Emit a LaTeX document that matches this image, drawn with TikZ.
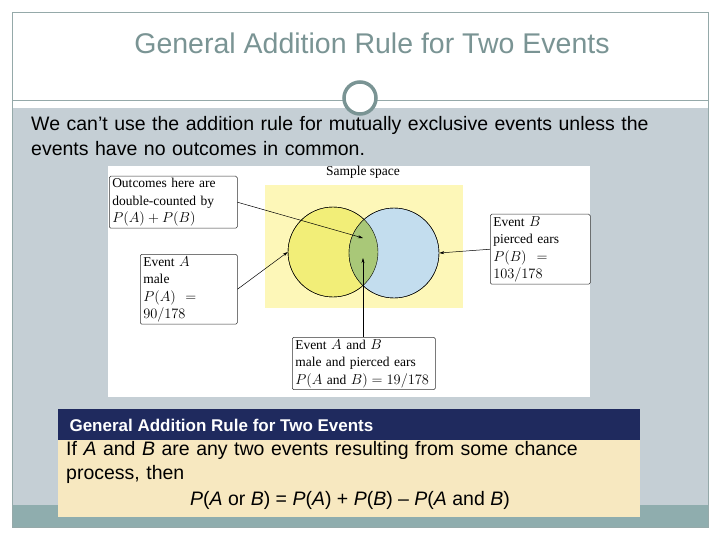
\documentclass[tikz,border=0pt]{standalone}
\usepackage{fontspec}
\setmainfont{Liberation Sans}
\newfontfamily\figfont{Liberation Serif}
\usetikzlibrary{arrows.meta}
\definecolor{bgray}{HTML}{C5CFD5}
\definecolor{teal}{HTML}{8FADAE}
\definecolor{ttl}{HTML}{7A9494}
\definecolor{navy}{HTML}{1F2A5E}
\definecolor{beige}{HTML}{F7E8C0}
\definecolor{sy}{HTML}{FDF7B8}
\definecolor{ca}{HTML}{F2EE78}
\definecolor{cb}{HTML}{C3DDEE}
\definecolor{cg}{HTML}{A9C878}
\tikzset{
 lbl/.style={draw=black!80, fill=white, rounded corners=1.5pt, line width=0.5pt, font=\figfont\fontsize{13.5}{17.5}\selectfont, align=left, anchor=north west, inner xsep=3pt, inner ysep=2pt, text width=#1},
 arr/.style={-{Stealth[length=5pt,width=3pt]}, line width=0.5pt}
}
\begin{document}
\begin{tikzpicture}[x=1pt,y=-1pt]
\useasboundingbox (0,0) rectangle (720,540);
\fill[white] (0,0) rectangle (720,540);
\fill[bgray] (12,108) rectangle (708,505);
\fill[teal] (12,505) rectangle (708,527);
\draw[ttl!80, line width=0.8pt] (12,12) rectangle (708,527);
\draw[ttl!80, line width=0.8pt] (12,100) -- (708,100);
\node[draw=ttl, line width=3.5pt, fill=white, circle, minimum size=32pt, inner sep=0pt] (hc) at (360,98) {};
\node[text=ttl, font=\fontsize{28.5}{30}\selectfont] (title) at (372,43) {General Addition Rule for Two Events};
\node[anchor=north west, align=left, text width=640pt, inner sep=0pt, font=\fontsize{19.5}{25}\selectfont] (intro) at (31,116) {We can’t use the addition rule for mutually exclusive events unless the events have no outcomes in common.};
% figure
\fill[white] (108,166) rectangle (590,397);
\node[font=\figfont\fontsize{13.5}{14}\selectfont] (ss) at (363,172) {Sample space};
\fill[sy] (265,185) rectangle (463,308);
\node[circle, draw=black, fill=ca, minimum size=90pt, inner sep=0pt] (A) at (333,252) {};
\node[circle, draw=black, fill=cb, minimum size=90pt, inner sep=0pt] (B) at (394,253) {};
\begin{scope}
\clip (333,252) circle (45);
\fill[cg] (394,253) circle (45);
\end{scope}
\draw (333,252) circle (45);
\draw (394,253) circle (45);
\coordinate (mid) at (363,238);
\coordinate (low) at (363,258);
\node[lbl=122pt] (b1) at (109,176) {Outcomes here are\\double-counted by\\$P(A)+P(B)$};
\node[lbl=91pt] (b2) at (140,254) {Event $A$\\male\\$P(A)=90/178$};
\node[lbl=94pt] (b3) at (490,214) {Event $B$\\pierced ears\\$P(B)=103/178$};
\node[lbl=137pt] (b4) at (292,337) {Event $A$ and $B$\\male and pierced ears\\$P(A$ and $B)=19/178$};
\draw[arr] (b1.east) -- (mid);
\draw[arr] (b2.east) -- (A.west);
\draw[arr] (b3.west) -- (B.east);
\draw[arr] (b4.north -| low) -- (low);
% rule box
\fill[navy] (58,409) rectangle (640,440);
\fill[beige] (58,440) rectangle (640,517);
\node[anchor=west, text=white, font=\bfseries\fontsize{17}{18}\selectfont] (rh) at (66,425) {General Addition Rule for Two Events};
\node[anchor=north west, align=left, text width=540pt, inner sep=0pt, font=\fontsize{19.5}{24}\selectfont] (rb) at (66,441) {If \textit{A} and \textit{B} are any two events resulting from some chance process, then};
\node[font=\fontsize{19.5}{20}\selectfont] (eq) at (350,500) {\textit{P}(\textit{A} or \textit{B}) = \textit{P}(\textit{A}) + \textit{P}(\textit{B}) – \textit{P}(\textit{A} and \textit{B})};
\end{tikzpicture}
\end{document}
